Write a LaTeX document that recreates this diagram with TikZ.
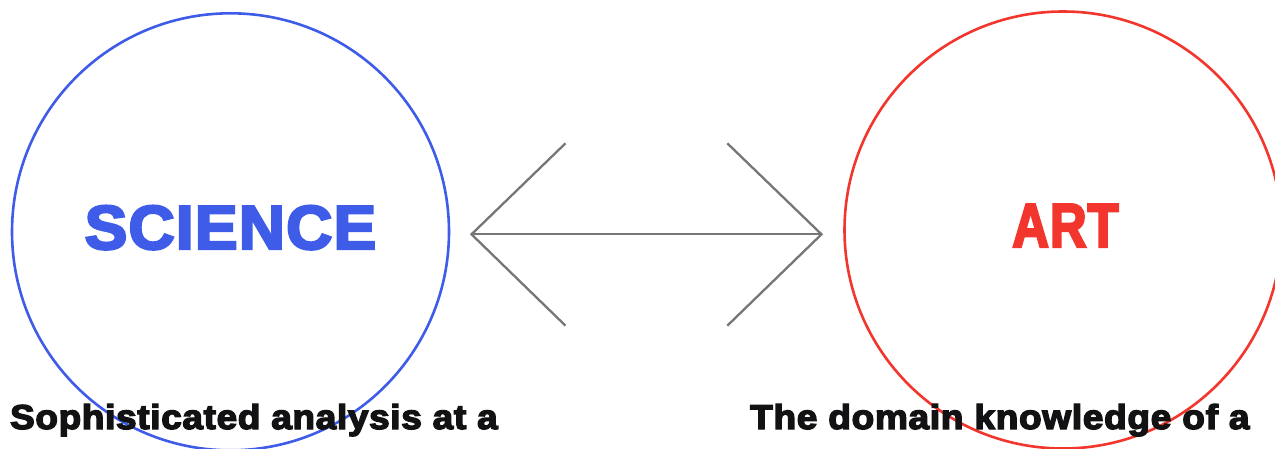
\documentclass[tikz,border=0pt]{standalone}
\usepackage{fontspec}
\usepackage{graphicx}
\newfontfamily\heavy[FakeBold=4,LetterSpace=2]{Liberation Sans Bold}
\definecolor{sciblue}{HTML}{3F5CE8}
\definecolor{artred}{HTML}{F2352D}
\definecolor{arrowgray}{HTML}{767676}
\definecolor{ink}{HTML}{121214}
\tikzset{
  ring/.style={circle, draw=#1, line width=2.6pt, inner sep=0pt, minimum size=437pt},
  bigword/.style={text=#1, inner sep=0pt, anchor=base, font=\heavy\fontsize{62}{62}\selectfont},
  caption/.style={text=ink, inner sep=0pt, anchor=base west, font=\heavy\fontsize{34.5}{34.5}\selectfont},
  link/.style={draw=arrowgray, line width=2.3pt, line join=miter}
}
\begin{document}
\begin{tikzpicture}[x=1pt, y=-1pt]
\useasboundingbox (0,0) rectangle (1275,449);
\node[ring=sciblue] (sci) at (230.5,231.8) {};
\node[ring=artred] (art) at (1063,230) {};
\node[bigword=sciblue] (scitext) at (230.5,249) {\scalebox{1.03}[1]{SCIENCE}};
\node[bigword=artred] (arttext) at (1065.5,247) {\scalebox{0.82}[1]{ART}};
\node[caption] (sciCap) at (10,429) {\scalebox{1.067}[1]{Sophisticated analysis at a}};
\node[caption] (artCap) at (750,429) {\scalebox{1.071}[1]{The domain knowledge of a}};
\coordinate (lt) at (471.5,234.3);
\coordinate (lu) at (565.5,143.3);
\coordinate (ld) at (565.5,325.7);
\coordinate (rt) at (821.5,234.3);
\coordinate (ru) at (727.3,143.3);
\coordinate (rd) at (727.3,325.7);
\draw[link] (lt) -- (rt);
\draw[link] (lu) -- (lt) -- (ld);
\draw[link] (ru) -- (rt) -- (rd);
\end{tikzpicture}
\end{document}
